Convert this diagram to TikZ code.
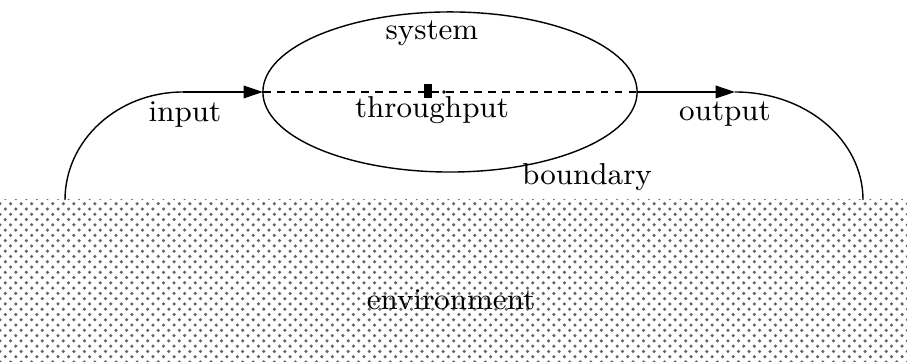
\documentclass[tikz,border=0pt]{standalone}
\usetikzlibrary{arrows.meta, positioning, shapes.geometric, patterns}

\begin{document}
\begin{tikzpicture}[
    x=0.01cm, y=-0.01cm,
    lbl/.style={font=\fontsize{8.6}{10}\selectfont, inner sep=1pt},
    sys/.style={draw, ellipse, minimum width=3.74cm, minimum height=1.6cm, inner sep=0pt, outer sep=0pt},
    flow/.style={-{Triangle[length=5.5pt, width=3.6pt]}},
    env/.style={pattern=crosshatch dots, pattern color=black!60}
  ]
    \useasboundingbox (0,0) rectangle (907,362);

    % environment
    \fill[env] (0,200) rectangle (907,362);
    \node[lbl] (environment) at (451,300) {environment};

    % system
    \node[sys] (system) at (450,92) {};
    \draw[dash pattern=on 2.2pt off 1.8pt] (system.west) -- (system.east);
    \fill (424,84) rectangle (432,98);
    \fill (444,92) circle (1.8);

    \coordinate (inFoot) at (65,200);
    \coordinate (inTop) at (183,92);
    \coordinate (outTip) at (735,92);
    \coordinate (outFoot) at (863,200);

    \draw (inFoot) .. controls (65,140) and (118,92) .. (inTop);
    \draw[flow] (inTop) -- (system.west);
    \draw[flow] (system.east) -- (outTip);
    \draw (outTip) .. controls (806,92) and (863,140) .. (outFoot);

    \node[lbl] (syslabel) at (432,33) {system};
    \node[lbl] (throughput) at (432,110) {throughput};
    \node[lbl] (boundary) at (587,177) {boundary};
    \node[lbl] (input) at (185,115) {input};
    \node[lbl] (output) at (725,114) {output};
  \end{tikzpicture}
\end{document}
